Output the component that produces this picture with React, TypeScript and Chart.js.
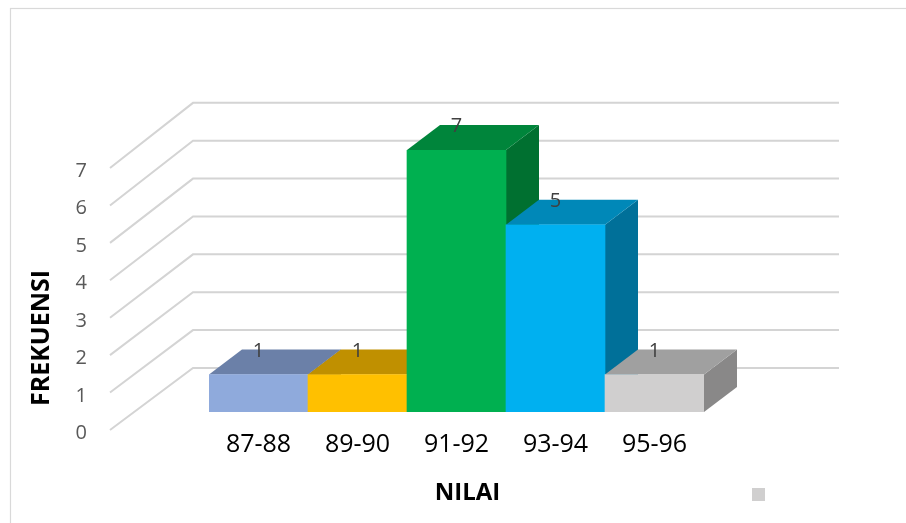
import React, { useEffect, useRef } from "react";
import { Chart, registerables } from "chart.js";

Chart.register(...registerables);

const categories = ["87-88", "89-90", "91-92", "93-94", "95-96"];
const frekuensi = [1, 1, 7, 5, 1];
const yTicks = [0, 1, 2, 3, 4, 5, 6, 7];
const yTitle = "FREKUENSI";
const xTitle = "NILAI";

const frontColors = ["#8FAADC", "#FFC000", "#00B050", "#00B0F0", "#D0CFCF"];
const topColors = ["#6B80A8", "#C09000", "#00853B", "#0088B8", "#A0A0A0"];
const sideColors = ["#56698C", "#9E7700", "#007030", "#007099", "#898888"];

const FONT = "'Open Sans', 'Noto Sans', sans-serif";
const DEPTH_X = 33;
const DEPTH_Y = 25;

const threeD = {
  id: "threeD",
  beforeDatasetsDraw(chart: any) {
    const { ctx, chartArea } = chart;
    const yScale = chart.scales.y;
    const xScale = chart.scales.x;
    const base0 = yScale.getPixelForValue(0);
    ctx.save();
    // outer frame
    ctx.strokeStyle = "#d9d9d9";
    ctx.lineWidth = 1.2;
    ctx.strokeRect(10.5, 8.5, 920, 540);

    // walls gridlines
    ctx.strokeStyle = "#d4d4d4";
    ctx.lineWidth = 2;
    yTicks.forEach((v) => {
      const y = yScale.getPixelForValue(v);
      const backY = base0 - 44 + (y - base0) * 1.012;
      ctx.beginPath();
      ctx.moveTo(chartArea.left - 99, y + 18);
      ctx.lineTo(chartArea.left - 16, backY);
      ctx.lineTo(chartArea.right + 135, backY);
      ctx.stroke();
    });

    // y tick labels
    ctx.fillStyle = "#595959";
    ctx.font = `20px ${FONT}`;
    ctx.textAlign = "right";
    ctx.textBaseline = "alphabetic";
    yTicks.forEach((v) => {
      const y = yScale.getPixelForValue(v);
      ctx.fillText(String(v), chartArea.left - 122, y + 27);
    });

    // x tick labels
    ctx.fillStyle = "#000000";
    ctx.font = `25px ${FONT}`;
    ctx.textAlign = "center";
    categories.forEach((c, i) => {
      const x = xScale.getPixelForValue(i);
      ctx.fillText(c, x, chartArea.bottom + 40);
    });

    // axis titles
    ctx.font = `bold 24px ${FONT}`;
    ctx.fillText(xTitle, (chartArea.left + chartArea.right) / 2 + 11, 500);
    ctx.save();
    ctx.translate(49, 338);
    ctx.rotate(-Math.PI / 2);
    ctx.font = `bold 25px ${FONT}`;
    ctx.fillText(yTitle, 0, 0);
    ctx.restore();

    // legend marker
    ctx.fillStyle = "#D0CFCF";
    ctx.fillRect(752, 488, 13, 13);

    // side and top faces
    const meta = chart.getDatasetMeta(0);
    meta.data.forEach((el: any, i: number) => {
      const { x, y, base, width } = el.getProps(["x", "y", "base", "width"], true);
      const l = x - width / 2;
      const r = x + width / 2;
      ctx.fillStyle = sideColors[i];
      ctx.beginPath();
      ctx.moveTo(r, y);
      ctx.lineTo(r + DEPTH_X, y - DEPTH_Y);
      ctx.lineTo(r + DEPTH_X, base - DEPTH_Y);
      ctx.lineTo(r, base);
      ctx.closePath();
      ctx.fill();
      ctx.fillStyle = topColors[i];
      ctx.beginPath();
      ctx.moveTo(l, y);
      ctx.lineTo(r, y);
      ctx.lineTo(r + DEPTH_X, y - DEPTH_Y);
      ctx.lineTo(l + DEPTH_X, y - DEPTH_Y);
      ctx.closePath();
      ctx.fill();
    });
    ctx.restore();
  },
  afterDatasetsDraw(chart: any) {
    const { ctx } = chart;
    const meta = chart.getDatasetMeta(0);
    ctx.save();
    ctx.fillStyle = "#404040";
    ctx.font = `20px ${FONT}`;
    ctx.textAlign = "center";
    ctx.textBaseline = "alphabetic";
    meta.data.forEach((el: any, i: number) => {
      const { x, y } = el.getProps(["x", "y"], true);
      ctx.fillText(String(frekuensi[i]), x, y - DEPTH_Y + 7);
    });
    ctx.restore();
  },
};

export default function App() {
  const ref = useRef<HTMLCanvasElement>(null);
  useEffect(() => {
    if (!ref.current) return;
    const chart = new Chart(ref.current, {
      type: "bar",
      data: {
        labels: categories,
        datasets: [
          {
            label: "",
            data: frekuensi,
            backgroundColor: frontColors,
            borderWidth: 0,
            barPercentage: 1,
            categoryPercentage: 1,
          },
        ],
      },
      options: {
        responsive: false,
        maintainAspectRatio: false,
        animation: false,
        devicePixelRatio: 1,
        layout: { padding: { left: 209, right: 202, top: 150, bottom: 111 } },
        plugins: { legend: { display: false }, tooltip: { enabled: false } },
        scales: {
          x: { display: false },
          y: { display: false, min: 0, max: 7 },
        },
      },
      plugins: [threeD],
    });
    return () => chart.destroy();
  }, []);
  return (
    <div style={{ position: "fixed", left: 0, top: 0, width: 906, height: 523, background: "#fff" }}>
      <canvas ref={ref} width={906} height={523} />
    </div>
  );
}
